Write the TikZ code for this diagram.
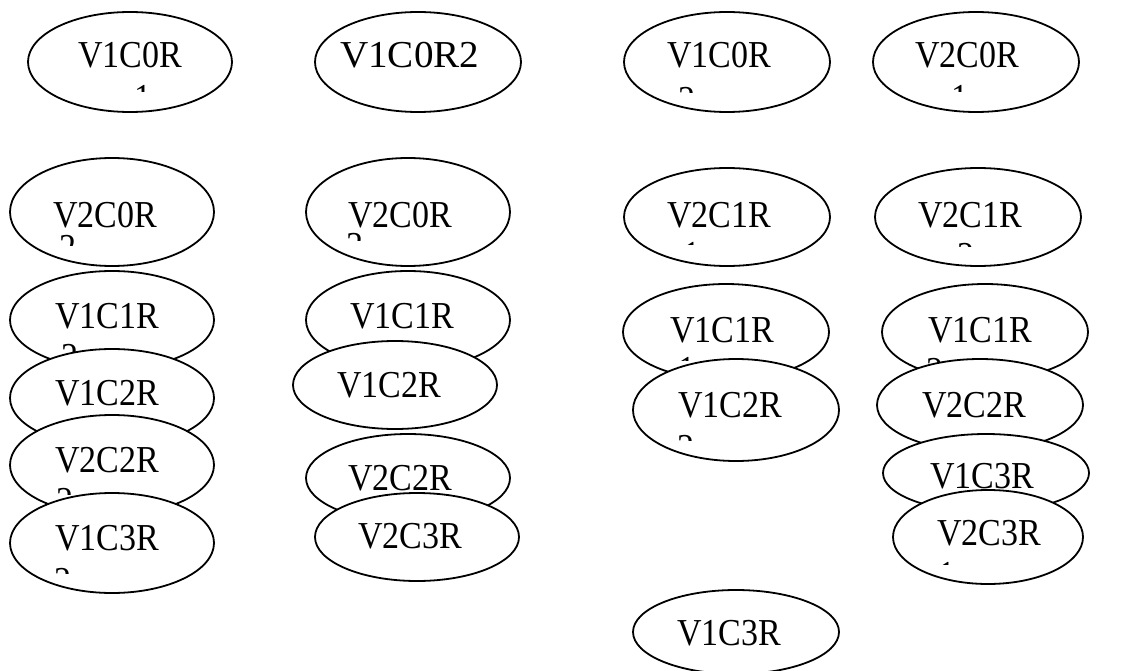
\documentclass[tikz,border=0pt]{standalone}
\usepackage{fontspec}
\setmainfont{Liberation Serif}
\usepackage{graphicx}
\usetikzlibrary{shapes.geometric}
\tikzset{
  ebox/.style={ellipse, draw=black, fill=white, line width=1.8pt, inner sep=0pt},
  lbl/.style={inner sep=0pt, font=\fontsize{34}{40}\selectfont}
}
\newcommand\myell[5]{\node[ebox, minimum width={2*#4pt}, minimum height={2*#5pt}] (#1) at (#2,#3) {};}
\newcommand\mytext[4]{\node[lbl, anchor=base west] (#1) at (#2,#3) {\scalebox{1}[1.12]{#4}};}
\newcommand\mydig[5]{\begin{scope}\clip (#2-6,#3-4) rectangle (#2+30,#4);
  \node[lbl, anchor=north west] (#1) at (#2,#3) {\scalebox{1}[1.12]{#5}};\end{scope}}
\begin{document}
\begin{tikzpicture}[x=1pt,y=-1pt]
\useasboundingbox (0,0) rectangle (1145,671);
% row 1
\myell{e1}{130}{62}{102}{50}\mytext{t1}{78}{68}{V1C0R}\mydig{d1}{134}{85}{92}{1}
\myell{e2}{418}{62}{103}{50}\node[lbl, anchor=base west] (t2) at (340,68) {\scalebox{1.15}[1.12]{V1C0R2}};
\myell{e3}{727}{62}{103}{50}\mytext{t3}{667}{68}{V1C0R}\mydig{d3}{678}{87}{93}{2}
\myell{e4}{976}{62}{103}{50}\mytext{t4}{915}{68}{V2C0R}\mydig{d4}{951}{85}{92}{1}
% row 2
\myell{e5}{112}{212}{102}{54}\mytext{t5}{53}{227}{V2C0R}\mydig{d5}{59}{235}{245}{2}
\myell{e6}{408}{212}{102}{54}\mytext{t6}{348}{227}{V2C0R}\mydig{d6}{346}{233}{240}{3}
\myell{e7}{727}{217}{103}{49}\mytext{t7}{667}{227}{V2C1R}\mydig{d7}{683}{242}{244}{1}
\myell{e8}{978}{217}{103}{49}\mytext{t8}{918}{227}{V2C1R}\mydig{d8}{957}{243}{246}{2}
% column 1
\myell{e9}{112}{320}{102}{49}\mytext{t9}{55}{328}{V1C1R}\mydig{d9}{61}{344}{352}{2}
\myell{e10}{112}{398}{102}{49}\mytext{t10}{55}{405}{V1C2R}
\myell{e11}{112}{465}{102}{50}\mytext{t11}{55}{472}{V2C2R}\mydig{d11}{56}{488}{494}{2}
\myell{e12}{112}{543}{102}{50}\mytext{t12}{55}{550}{V1C3R}\mydig{d12}{54}{568}{573}{2}
% column 2
\myell{e13}{408}{320}{102}{49}\mytext{t13}{350}{328}{V1C1R}
\myell{e14}{395}{385}{102}{44}\mytext{t14}{337}{397}{V1C2R}
\myell{e15}{408}{478}{102}{44}\mytext{t15}{348}{490}{V2C2R}
\myell{e16}{417}{537}{102}{44}\mytext{t16}{358}{548}{V2C3R}
% column 3
\myell{e17}{726}{332}{103}{48}\mytext{t17}{670}{342}{V1C1R}\mydig{d17}{678}{357}{360}{1}
\myell{e18}{736}{410}{103}{51}\mytext{t18}{678}{417}{V1C2R}\mydig{d18}{677}{435}{440}{2}
\myell{e19}{736}{632}{103}{42}\mytext{t19}{677}{645}{V1C3R}
% column 4
\myell{e20}{985}{332}{103}{48}\mytext{t20}{928}{342}{V1C1R}\mydig{d20}{926}{358}{363}{2}
\myell{e21}{980}{405}{103}{46}\mytext{t21}{922}{417}{V2C2R}
\myell{e22}{986}{473}{103}{39}\mytext{t22}{930}{488}{V1C3R}
\myell{e23}{988}{537}{95}{47}\mytext{t23}{937}{545}{V2C3R}\mydig{d23}{938}{562}{564}{1}
\end{tikzpicture}
\end{document}
